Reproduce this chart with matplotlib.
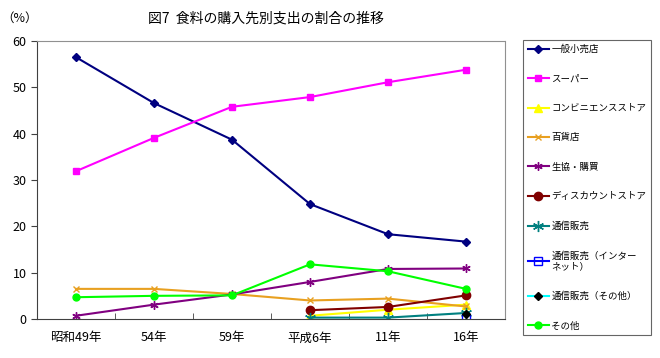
import numpy as np
import matplotlib
matplotlib.use("Agg")
import matplotlib.pyplot as plt

plt.rcParams['font.family'] = ['Noto Sans CJK JP', 'DejaVu Sans']

# 年次
years = ["昭和49年", "54年", "59年", "平成6年", "11年", "16年"]

nan = np.nan
ippan = [56.5, 46.6, 38.7, 24.8, 18.3, 16.7]
super_ = [31.9, 39.1, 45.8, 47.9, 51.1, 53.8]
conveni = [nan, nan, nan, 0.7, 2.0, 3.1]
hyakka = [6.5, 6.5, 5.4, 4.0, 4.4, 2.7]
seikyo = [0.7, 3.1, 5.3, 8.0, 10.8, 10.9]
discount = [nan, nan, nan, 1.9, 2.6, 5.1]
tsuhan = [nan, nan, nan, 0.3, 0.3, 1.3]
tsuhan_net = [nan, nan, nan, nan, nan, 0.3]
tsuhan_other = [nan, nan, nan, nan, nan, 1.0]
sonota = [4.7, 5.0, 5.1, 11.8, 10.3, 6.5]

series = [
    ("一般小売店", ippan, dict(color="#000080", marker="D", ms=4)),
    ("スーパー", super_, dict(color="#FF00FF", marker="s", ms=5)),
    ("コンビニエンスストア", conveni, dict(color="#FFFF00", marker="^", ms=6)),
    ("百貨店", hyakka, dict(color="#E8A020", marker="x", ms=5, mew=1)),
    ("生協・購買", seikyo, dict(color="#800080", marker=(6, 2, 0), ms=6, mew=1)),
    ("ディスカウントストア", discount, dict(color="#800000", marker="o", ms=6)),
    ("通信販売", tsuhan, dict(color="#008080", marker=(6, 2, 0), ms=8, mew=1)),
    ("通信販売（インター\nネット）", tsuhan_net, dict(color="#0000FF", marker="s", ms=6, mfc="none")),
    ("通信販売（その他）", tsuhan_other, dict(color="#00FFFF", marker="D", ms=4, mfc="black", mec="black")),
    ("その他", sonota, dict(color="#00FF00", marker="o", ms=5)),
]

fig = plt.figure(figsize=(6.6, 3.58), dpi=100)
ax = fig.add_axes([37 / 660, 1 - 319 / 358, 468 / 660, 278 / 358])

x = np.arange(len(years))
for name, vals, st in series:
    ax.plot(x, vals, lw=1.5, label=name, **st)

ax.set_xlim(-0.5, 5.5)
ax.set_ylim(0, 60)
ax.set_yticks(range(0, 61, 10))
ax.set_xticks(x)
ax.set_xticklabels(years)
ax.set_xticks(np.arange(0.5, 5, 1), minor=True)
ax.tick_params(axis="x", which="major", length=0, pad=9, labelsize=9)
ax.tick_params(axis="x", which="minor", direction="in", length=4, color="#404040")
ax.tick_params(axis="y", length=4, labelsize=9, color="#404040")

ax.spines["top"].set_color("#909090")
ax.spines["top"].set_linestyle((0, (1, 1)))
ax.spines["right"].set_color("#909090")
ax.spines["left"].set_color("#404040")
ax.spines["bottom"].set_color("#404040")

fig.text(266 / 660, 1 - 18 / 358, "図7  食料の購入先別支出の割合の推移",
         ha="center", va="center", fontsize=10)
fig.text(20 / 660, 1 - 18 / 358, "（%）", ha="center", va="center", fontsize=9)

leg = fig.legend(loc="upper left", bbox_to_anchor=(523 / 660, 1 - 40 / 358),
                 fontsize=6.8, frameon=True, fancybox=False, edgecolor="#404040",
                 handlelength=2.2, handletextpad=0.3, labelspacing=2.15,
                 borderpad=0.5, borderaxespad=0)
leg.get_frame().set_linewidth(0.8)

fig.savefig("out.png", dpi=100)
